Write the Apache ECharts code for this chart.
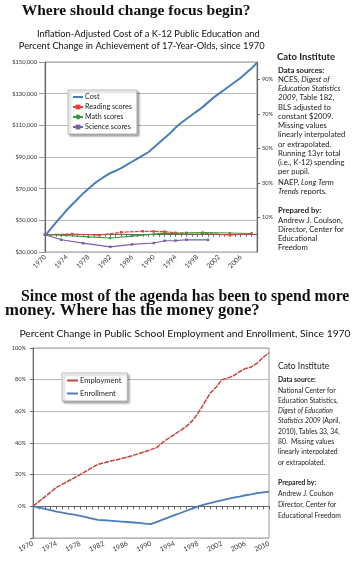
<!DOCTYPE html>
<html><head><meta charset="utf-8">
<script src="https://cdn.jsdelivr.net/npm/echarts@6/dist/echarts.min.js"></script>
<style>html,body{margin:0;padding:0;background:#fff}#c{width:361px;height:586px}</style>
</head><body><div id="c"></div>
<script>
// ---------- DATA: top chart ----------
const years1 = ['1970','1971','1972','1973','1974','1975','1976','1977','1978','1979',
  '1980','1981','1982','1983','1984','1985','1986','1987','1988','1989',
  '1990','1991','1992','1993','1994','1995','1996','1997','1998','1999',
  '2000','2001','2002','2003','2004','2005','2006','2007','2008','2009'];
const costValues = [40000,44500,48500,52500,56500,60000,63500,67000,70000,73000,
  75500,77800,79800,81300,83000,85000,87000,89000,91000,93000,
  96000,99000,102000,105000,108500,111500,114000,116500,119000,121500,
  124500,127500,130000,132500,135000,137500,140000,143000,146000,149500];
const readingYears = ['1970','1975','1980','1984','1988','1990','1992','1994','1996','1999','2004','2008'];
const readingValues = [0,0.4,-0.2,1.4,2.0,1.9,1.8,1.1,1.0,1.0,-0.2,0.6];
const mathYears = ['1970','1973','1978','1982','1986','1990','1992','1994','1996','1999','2004','2008'];
const mathValues = [0,-0.3,-1.3,-1.9,-0.8,0.3,0.9,0.7,1.0,1.3,1.0,0.7];
const scienceYears = ['1970','1973','1977','1982','1986','1990','1992','1994','1996','2000'];
const scienceValues = [0,-2.9,-4.9,-7.0,-5.6,-4.8,-3.5,-3.4,-2.9,-3.0];
const costTicks = [30000,50000,70000,90000,110000,130000,150000];
const pctTicks1 = [10,30,50,70,90];

// ---------- DATA: bottom chart ----------
const years2 = ['1970','1971','1972','1973','1974','1975','1976','1977','1978','1979',
  '1980','1981','1982','1983','1984','1985','1986','1987','1988','1989',
  '1990','1991','1992','1993','1994','1995','1996','1997','1998','1999',
  '2000','2001','2002','2003','2004','2005','2006','2007','2008','2009','2010'];
const employment = [0,3,6,9,12,14,16,18,20,22.2,
  24.4,26.5,27.5,28.5,29.3,30.2,31.1,32.2,33.4,34.6,
  35.8,37.2,40.5,43,45.5,48,50.5,54,59,65,
  71.4,75,80,81,82.5,85,87,88,90.5,94,97];
const enrollment = [0,-0.8,-1.6,-2.4,-3.4,-4.0,-4.7,-5.3,-6.0,-6.8,
  -7.7,-8.6,-8.8,-9.0,-9.3,-9.6,-9.9,-10.2,-10.5,-10.9,
  -11.2,-9.8,-8.4,-7.0,-5.6,-4.2,-2.8,-1.4,0,1.1,
  2.1,3.0,3.8,4.7,5.5,6.2,7.0,7.6,8.3,8.8,9.3];

function onCategories(cats, ys, vs) {
  return cats.map(c => { const i = ys.indexOf(c); return i >= 0 ? vs[i] : null; });
}

const SANS = 'Lato';

const topNotes = ['{b|Data sources:}','NCES, {i|Digest of}','{i|Education Statistics}','{i|2009}, Table 182,',
  'BLS adjusted to','constant $2009.','Missing values','linearly interpolated','or extrapolated.',
  'Running 13yr total','(i.e., K-12) spending','per pupil.'];
const topNotes2 = ['NAEP, {i|Long Term}','{i|Trends} reports.'];
const topNotes3 = ['{b|Prepared by:}','Andrew J. Coulson,','Director, Center for','Educational','Freedom'];
const botNotes = ['{b|Data source:}','National Center for','Education Statistics,','{i|Digest of Education}',
  '{i|Statistics 2009} (April,','2010), Tables 33, 34,','80.  Missing values','linearly interpolated','or extrapolated.'];
const botNotes2 = ['{b|Prepared by:}','Andrew J. Coulson','Director, Center for','Educational Freedom'];

function block(lines, left, top, fs, lh) {
  return {
    text: lines.join('\n'), left: left, top: top, padding: 0,
    textStyle: {
      fontFamily: SANS, fontSize: fs, lineHeight: lh, color: '#222', fontWeight: 'normal',
      rich: {
        b: {fontFamily: SANS, fontSize: fs, lineHeight: lh, fontWeight: 'bold', color: '#222'},
        i: {fontFamily: SANS, fontSize: fs, lineHeight: lh, fontStyle: 'italic', color: '#222'}
      }
    }
  };
}

function txt(x, y, text, font, align) {
  return {type: 'text', x: x, y: y, silent: true,
    style: {text: text, font: font, fill: '#111', textAlign: align || 'left', textVerticalAlign: 'middle',
      align: align || 'left', verticalAlign: 'middle'}};
}

const chart = echarts.init(document.getElementById('c'), null, {renderer: 'canvas'});
const axisCol = '#666';
const gridCol = '#b8b8b8';
const noMarker = {opacity: 0};

chart.setOption({
  animation: false,
  backgroundColor: '#fff',
  title: [
    block(['{b|Cato Institute}'], 277, 51, 9.5, 12),
    block(topNotes, 278, 65.4, 7.7, 9.25),
    block(topNotes2, 278, 177.7, 7.7, 9.25),
    block(topNotes3, 278, 206.4, 7.7, 9.1),
    block(['Cato Institute'], 278, 361.5, 8.5, 10.4),
    block(botNotes, 278, 374.9, 6.8, 10.3),
    block(botNotes2, 278, 477.9, 6.8, 10.8)
  ],
  graphic: [
    txt(21.7, 10.5, 'Where should change focus begin?', 'bold 15.5px "Liberation Serif"'),
    txt(148.3, 33.5, 'Inflation-Adjusted Cost of a K-12 Public Education and', '9.3px Lato', 'center'),
    txt(141.7, 46, 'Percent Change in Achievement of 17-Year-Olds, since 1970', '9.3px Lato', 'center'),
    txt(21, 296.5, 'Since most of the agenda has been to spend more', 'bold 15.8px "Liberation Serif"'),
    txt(5, 310.5, 'money. Where has the money gone?', 'bold 16.7px "Liberation Serif"'),
    txt(185, 334, 'Percent Change in Public School Employment and Enrollment, Since 1970', '10.3px Lato', 'center')
  ],
  legend: [
    {
      orient: 'vertical', left: 68, top: 90,
      data: [{name: 'Cost', itemStyle: noMarker},
        {name: 'Reading scores', lineStyle: {type: 'solid'}},'Math scores','Science scores'],
      itemWidth: 10, itemHeight: 6, itemGap: 2, padding: [3, 5, 3, 4],
      backgroundColor: '#fff', borderColor: '#aaa', borderWidth: 0.8, borderRadius: 0,
      shadowColor: 'rgba(0,0,0,0.35)', shadowBlur: 2, shadowOffsetX: 2, shadowOffsetY: 2,
      textStyle: {fontFamily: SANS, fontSize: 7.2, lineHeight: 8, color: '#222', padding: [0,0,0,-3]}
    },
    {
      orient: 'vertical', left: 62, top: 373,
      data: [{name: 'Employment', itemStyle: noMarker, lineStyle: {type: 'solid'}},
        {name: 'Enrollment', itemStyle: noMarker}],
      itemWidth: 11, itemHeight: 6, itemGap: 4, padding: [3, 6, 3, 4],
      backgroundColor: '#fff', borderColor: '#aaa', borderWidth: 0.8,
      shadowColor: 'rgba(0,0,0,0.35)', shadowBlur: 2, shadowOffsetX: 2, shadowOffsetY: 2,
      textStyle: {fontFamily: SANS, fontSize: 7.5, lineHeight: 9, color: '#222', padding: [0,0,0,-3]}
    }
  ],
  grid: [
    {left: 45, right: 104, top: 62, bottom: 334, show: true, borderColor: '#999', borderWidth: 1, containLabel: false},
    {left: 33, right: 92, top: 348, bottom: 48, show: true, borderColor: '#999', borderWidth: 1, containLabel: false}
  ],
  xAxis: [
    {
      type: 'category', gridIndex: 0, data: years1, boundaryGap: false,
      axisLine: {lineStyle: {color: axisCol, width: 1}},
      axisTick: {show: true, interval: 0, length: 2, lineStyle: {color: axisCol}},
      axisLabel: {interval: 3, rotate: 45, fontFamily: SANS, fontSize: 6.8, color: '#333', margin: 4},
      splitLine: {show: false}
    },
    {
      type: 'category', gridIndex: 1, data: years2, boundaryGap: false,
      axisLine: {lineStyle: {color: axisCol, width: 1}},
      axisTick: {show: true, interval: 0, length: 3, lineStyle: {color: axisCol}},
      axisLabel: {interval: 3, rotate: 25, fontFamily: SANS, fontSize: 6.8, color: '#333', margin: 5},
      splitLine: {show: false}
    }
  ],
  yAxis: [
    {
      type: 'value', gridIndex: 0, min: 30000, max: 150000, position: 'left',
      axisLine: {show: true, lineStyle: {color: axisCol, width: 1.2}},
      axisTick: {show: true, length: 6, customValues: costTicks, lineStyle: {color: '#999'}},
      axisLabel: {customValues: costTicks, fontFamily: SANS, fontSize: 5.8, color: '#333', margin: 8,
        formatter: v => '$' + v.toLocaleString('en-US')},
      splitLine: {show: true, customValues: costTicks, lineStyle: {color: gridCol, width: 1}}
    },
    {
      type: 'value', gridIndex: 0, min: -10, max: 100, position: 'right',
      axisLine: {show: true, lineStyle: {color: axisCol, width: 1.2}},
      axisTick: {show: true, length: 3, customValues: pctTicks1, lineStyle: {color: axisCol}},
      axisLabel: {customValues: pctTicks1, fontFamily: SANS, fontSize: 5.6, color: '#333', margin: 5,
        formatter: v => v + '%'},
      splitLine: {show: false}
    },
    {
      type: 'value', gridIndex: 1, min: -20, max: 100, interval: 20,
      axisLine: {show: true, lineStyle: {color: axisCol, width: 1}},
      axisTick: {show: true, length: 3, lineStyle: {color: axisCol}},
      axisLabel: {fontFamily: SANS, fontSize: 5.6, color: '#333', margin: 7,
        formatter: v => v < 0 ? '' : v + '%'},
      splitLine: {show: true, lineStyle: {color: gridCol, width: 1}}
    }
  ],
  series: [
    {name: 'Cost', type: 'line', xAxisIndex: 0, yAxisIndex: 0, data: costValues,
      symbol: 'none', lineStyle: {color: '#4a7ebb', width: 2}, itemStyle: {color: '#4a7ebb'}, z: 3},
    {name: 'Reading scores', type: 'line', xAxisIndex: 0, yAxisIndex: 1,
      data: onCategories(years1, readingYears, readingValues), connectNulls: true,
      symbol: 'rect', symbolSize: 2.5, lineStyle: {color: '#e8403a', width: 1.2, type: [4, 1]},
      itemStyle: {color: '#e8403a'}, z: 4},
    {name: 'Math scores', type: 'line', xAxisIndex: 0, yAxisIndex: 1,
      data: onCategories(years1, mathYears, mathValues), connectNulls: true,
      symbol: 'circle', symbolSize: 2.5, lineStyle: {color: '#3a9a3a', width: 1.2},
      itemStyle: {color: '#3a9a3a'}, z: 4},
    {name: 'Science scores', type: 'line', xAxisIndex: 0, yAxisIndex: 1,
      data: onCategories(years1, scienceYears, scienceValues), connectNulls: true,
      symbol: 'rect', symbolSize: 2.5, lineStyle: {color: '#7b5ea7', width: 1.2},
      itemStyle: {color: '#7b5ea7'}, z: 4},
    {name: 'Employment', type: 'line', xAxisIndex: 1, yAxisIndex: 2, data: employment,
      symbol: 'none', lineStyle: {color: '#c8423e', width: 1.5, type: [5, 1]}, itemStyle: {color: '#c8423e'}, z: 3},
    {name: 'Enrollment', type: 'line', xAxisIndex: 1, yAxisIndex: 2, data: enrollment,
      symbol: 'none', lineStyle: {color: '#4a7ebb', width: 1.8}, itemStyle: {color: '#4a7ebb'}, z: 3}
  ]
});
</script></body></html>
